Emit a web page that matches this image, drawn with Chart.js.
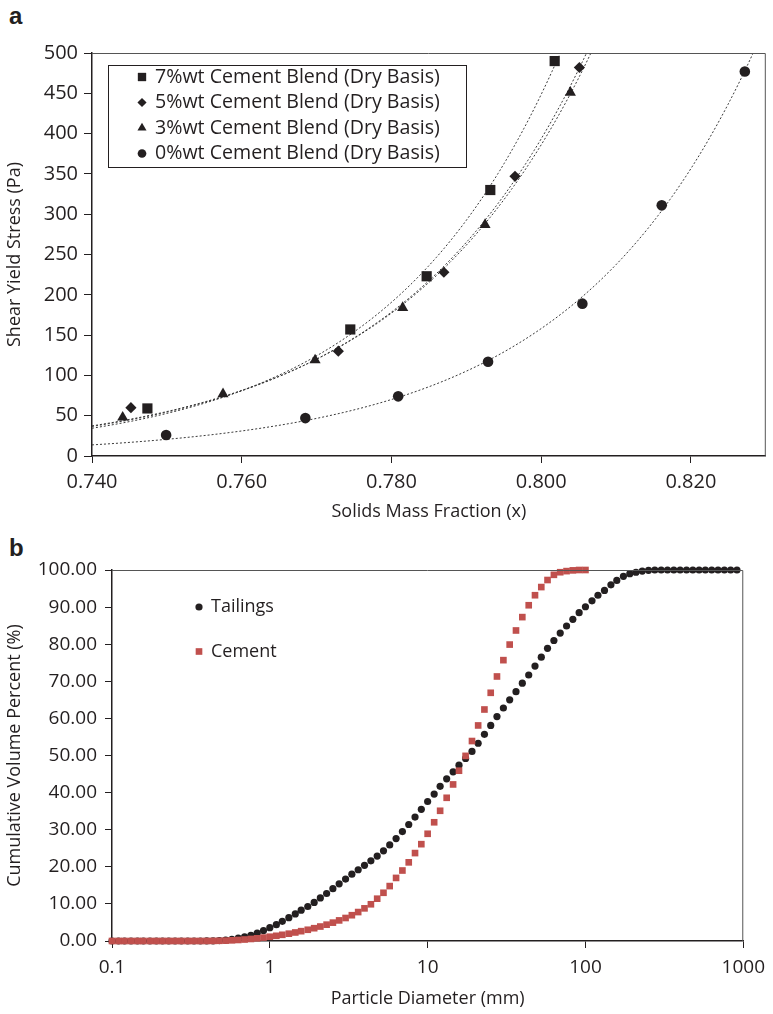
<!DOCTYPE html>
<html>
<head>
<meta charset="utf-8">
<script src="https://cdn.jsdelivr.net/npm/chart.js@4.4.1/dist/chart.umd.min.js"></script>
<style>
  body { margin: 0; background: #fff; width: 773px; height: 1014px; position: relative; overflow: hidden; }
  .panel { position: absolute; left: 0; width: 773px; }
  .tag { position: absolute; left: 9px; font: bold 24px "Liberation Sans", Arial, sans-serif; color: #231f20; }
</style>
</head>
<body>
<div class="tag" style="top:2px">a</div>
<div class="tag" style="top:534px">b</div>
<div class="panel" style="top:0; height:527px"><canvas id="chartA"></canvas></div>
<div class="panel" style="top:540px; height:474px"><canvas id="chartB"></canvas></div>
<script>
const INK = '#231f20';
const RED = '#c0504d';

// --- panel a: shear yield stress vs solids mass fraction ---
const frac7 = [0.7474, 0.7745, 0.7847, 0.7932, 0.8018];
const stress7 = [59, 157, 223, 330, 490];
const frac5 = [0.7452, 0.7729, 0.7870, 0.7965, 0.8051];
const stress5 = [60, 130, 228, 347, 482];
const frac3 = [0.7441, 0.7575, 0.7698, 0.7815, 0.7925, 0.8039];
const stress3 = [48, 77, 119, 184, 287, 451];
const frac0 = [0.7499, 0.7685, 0.7809, 0.7929, 0.8055, 0.8161, 0.8272];
const stress0 = [26, 47, 74, 117, 189, 311, 477];
const labelsA = ['7%wt Cement Blend (Dry Basis)', '5%wt Cement Blend (Dry Basis)',
                 '3%wt Cement Blend (Dry Basis)', '0%wt Cement Blend (Dry Basis)'];

// --- panel b: particle size distributions ---
const sizeClasses = [
  0.1, 0.11, 0.12, 0.132, 0.145, 0.158, 0.174, 0.191, 0.209, 0.229,
  0.251, 0.275, 0.302, 0.331, 0.363, 0.398, 0.437, 0.479, 0.525, 0.575,
  0.631, 0.692, 0.759, 0.832, 0.912, 1, 1.1, 1.2, 1.32, 1.45,
  1.58, 1.74, 1.91, 2.09, 2.29, 2.51, 2.75, 3.02, 3.31, 3.63,
  3.98, 4.37, 4.79, 5.25, 5.75, 6.31, 6.92, 7.59, 8.32, 9.12,
  10, 11, 12, 13.2, 14.5, 15.8, 17.4, 19.1, 20.9, 22.9,
  25.1, 27.5, 30.2, 33.1, 36.3, 39.8, 43.7, 47.9, 52.5, 57.5,
  63.1, 69.2, 75.9, 83.2, 91.2, 100, 110, 120, 132, 145,
  158, 174, 191, 209, 229, 251, 275, 302, 331, 363,
  398, 437, 479, 525, 575, 631, 692, 759, 832, 912
];
const tailings = [
  0, 0, 0, 0, 0, 0, 0, 0, 0, 0,
  0, 0, 0, 0, 0, 0.02, 0.05, 0.12, 0.25, 0.45,
  0.75, 1.1, 1.55, 2.1, 2.8, 3.6, 4.4, 5.3, 6.3, 7.3,
  8.3, 9.3, 10.4, 11.6, 12.8, 14.1, 15.4, 16.7, 18.0, 19.2,
  20.4, 21.6, 22.9, 24.3, 25.9, 27.6, 29.5, 31.4, 33.4, 35.5,
  37.6, 39.6, 41.7, 43.7, 45.6, 47.4, 49.2, 51.1, 53.3, 55.7,
  58.1, 60.5, 62.8, 65.0, 67.2, 69.5, 71.7, 74.1, 76.5, 78.9,
  81.0, 83.0, 84.9, 86.7, 88.5, 90.1, 91.7, 93.2, 94.5, 96.0,
  97.2, 98.3, 99.0, 99.4, 99.7, 99.9, 100, 100, 100, 100,
  100, 100, 100, 100, 100, 100, 100, 100, 100, 100
];
const cement = [
  0, 0, 0, 0, 0, 0, 0, 0, 0, 0,
  0, 0, 0, 0, 0, 0.01, 0.03, 0.06, 0.1, 0.18,
  0.28, 0.4, 0.55, 0.72, 0.92, 1.15, 1.4, 1.67, 1.97, 2.3,
  2.65, 3.03, 3.45, 3.9, 4.4, 4.95, 5.55, 6.2, 6.95, 7.8,
  8.8, 9.9, 11.4, 13.0, 14.8, 17.0, 19.0, 21.2, 23.7, 26.1,
  28.9, 32.0, 35.1, 38.6, 42.2, 45.9, 49.9, 53.9, 58.1, 62.4,
  66.9, 71.3, 75.7, 79.9, 83.7, 87.3, 90.5, 93.2, 95.4, 97.3,
  98.7, 99.4, 99.7, 99.9, 100, 100
];
const diameterTicks = [0.1, 1, 10, 100, 1000];

Chart.defaults.font.family = '"Open Sans", sans-serif';
Chart.defaults.font.size = 19;
Chart.defaults.color = INK;

function pairs(xs, ys) {
  return ys.map((y, i) => ({ x: xs[i], y: y }));
}

// y = A*exp(B*(x-m)) fitted by least squares on y (Gauss-Newton, started from the log fit)
function fitExp(pts) {
  const n = pts.length;
  const m = pts.reduce((s, p) => s + p.x, 0) / n;
  let su = 0, sl = 0, suu = 0, sul = 0;
  pts.forEach(p => {
    const u = p.x - m, l = Math.log(p.y);
    su += u; sl += l; suu += u * u; sul += u * l;
  });
  let B = (n * sul - su * sl) / (n * suu - su * su);
  let A = Math.exp((sl - B * su) / n);
  for (let it = 0; it < 60; it++) {
    let jaa = 0, jab = 0, jbb = 0, ra = 0, rb = 0;
    pts.forEach(p => {
      const u = p.x - m, e = Math.exp(B * u);
      const r = p.y - A * e, da = e, db = A * u * e;
      jaa += da * da; jab += da * db; jbb += db * db;
      ra += da * r; rb += db * r;
    });
    const det = jaa * jbb - jab * jab;
    if (!det) break;
    A += (jbb * ra - jab * rb) / det;
    B += (jaa * rb - jab * ra) / det;
  }
  return x => A * Math.exp(B * (x - m));
}

const expTrend = {
  id: 'expTrend',
  beforeDatasetsDraw(chart) {
    const { ctx, chartArea: a, scales: { x, y } } = chart;
    ctx.save();
    ctx.beginPath();
    ctx.rect(a.left, a.top, a.width, a.height);
    ctx.clip();
    ctx.strokeStyle = '#3a3a3a';
    ctx.lineWidth = 1;
    ctx.setLineDash([2, 2]);
    chart.data.datasets.forEach(ds => {
      const f = fitExp(ds.data);
      ctx.beginPath();
      for (let px = a.left; px <= a.right; px += 2) {
        const py = y.getPixelForValue(f(x.getValueForPixel(px)));
        if (px === a.left) ctx.moveTo(px, py); else ctx.lineTo(px, py);
      }
      ctx.stroke();
    });
    ctx.restore();
  }
};

// top and right edges of the plot frame
const frame = {
  id: 'frame',
  afterDraw(chart) {
    const { ctx, chartArea: a } = chart;
    ctx.save();
    ctx.strokeStyle = '#555';
    ctx.lineWidth = 1;
    ctx.beginPath();
    ctx.moveTo(a.left, a.top + 0.5);
    ctx.lineTo(a.right - 0.5, a.top + 0.5);
    ctx.lineTo(a.right - 0.5, a.bottom);
    ctx.stroke();
    ctx.restore();
  }
};

// legend drawn inside the plot area
const innerLegend = {
  id: 'innerLegend',
  afterDraw(chart, args, o) {
    const { ctx, chartArea: a } = chart;
    ctx.save();
    if (o.box) {
      ctx.strokeStyle = INK;
      ctx.lineWidth = 1;
      ctx.strokeRect(a.left + o.box[0] + 0.5, a.top + o.box[1] + 0.5, o.box[2], o.box[3]);
    }
    ctx.font = o.fontSize + 'px "Open Sans", sans-serif';
    ctx.textBaseline = 'middle';
    chart.data.datasets.forEach((ds, i) => {
      const cy = a.top + o.y + i * o.rowHeight;
      ctx.fillStyle = ds.backgroundColor;
      ctx.strokeStyle = ds.borderColor;
      Chart.helpers.drawPoint(ctx, {
        pointStyle: ds.pointStyle,
        radius: ds.pointRadius * o.markerScale,
        borderWidth: 0,
        rotation: 0
      }, a.left + o.markerX, cy);
      ctx.fillStyle = INK;
      ctx.fillText(ds.label, a.left + o.textX, cy);
    });
    ctx.restore();
  }
};

function markerSet(label, xs, ys, style, r) {
  return {
    label: label,
    data: pairs(xs, ys),
    pointStyle: style,
    pointRadius: r,
    backgroundColor: INK,
    borderColor: INK,
    borderWidth: 0,
    showLine: false,
    clip: false
  };
}

new Chart(document.getElementById('chartA'), {
  type: 'scatter',
  data: {
    datasets: [
      markerSet(labelsA[0], frac7, stress7, 'rect', 7.2),
      markerSet(labelsA[1], frac5, stress5, 'rectRot', 5.6),
      markerSet(labelsA[2], frac3, stress3, 'triangle', 6.4),
      markerSet(labelsA[3], frac0, stress0, 'circle', 5.3)
    ]
  },
  options: {
    responsive: true,
    maintainAspectRatio: false,
    animation: false,
    events: [],
    layout: { padding: { top: 53, right: 1, left: 0, bottom: 0 } },
    scales: {
      x: {
        type: 'linear',
        min: 0.74,
        max: 0.83,
        afterFit: s => { s.height = 71; },
        ticks: { stepSize: 0.02, includeBounds: false, padding: 7, maxRotation: 0,
                 font: { size: 20 }, callback: v => v.toFixed(3) },
        grid: { drawOnChartArea: false, tickLength: 7, tickColor: INK },
        border: { color: INK, width: 1.5 },
        title: { display: true, text: 'Solids Mass Fraction (x)', font: { size: 18 } }
      },
      y: {
        min: 0,
        max: 500,
        afterFit: s => { s.width = 92; },
        ticks: { stepSize: 50, padding: 6, font: { size: 20 } },
        grid: { drawOnChartArea: false, tickLength: 8, tickColor: INK },
        border: { color: INK, width: 1.5 },
        title: { display: true, text: 'Shear Yield Stress (Pa)', font: { size: 18 } }
      }
    },
    plugins: {
      legend: { display: false },
      tooltip: { enabled: false },
      innerLegend: { box: [16, 12, 358, 102], y: 24, rowHeight: 25.5, markerX: 50, textX: 63,
                     fontSize: 19.6, markerScale: 0.82 }
    }
  },
  plugins: [expTrend, frame, innerLegend]
});

new Chart(document.getElementById('chartB'), {
  type: 'scatter',
  data: {
    datasets: [
      { label: 'Tailings', data: pairs(sizeClasses, tailings), pointStyle: 'circle', pointRadius: 3.6,
        backgroundColor: INK, borderColor: INK, borderWidth: 0, order: 1, clip: false },
      { label: 'Cement', data: pairs(sizeClasses, cement), pointStyle: 'rect', pointRadius: 4.7,
        backgroundColor: RED, borderColor: RED, borderWidth: 0, order: 0, clip: false }
    ]
  },
  options: {
    responsive: true,
    maintainAspectRatio: false,
    animation: false,
    events: [],
    layout: { padding: { top: 30, right: 23, left: 0, bottom: 0 } },
    scales: {
      x: {
        type: 'logarithmic',
        min: 0.1,
        max: 1000,
        afterFit: s => { s.height = 73; },
        afterBuildTicks: s => { s.ticks = diameterTicks.map(v => ({ value: v })); },
        ticks: { padding: 8, maxRotation: 0, autoSkip: false, callback: v => String(v) },
        grid: { drawOnChartArea: false, tickLength: 7, tickColor: INK },
        border: { color: INK, width: 1.5 },
        title: { display: true, text: 'Particle Diameter (mm)', font: { size: 18 } }
      },
      y: {
        min: 0,
        max: 100,
        afterFit: s => { s.width = 112; },
        ticks: { stepSize: 10, padding: 8, callback: v => v.toFixed(2) },
        grid: { drawOnChartArea: false, tickLength: 7, tickColor: INK },
        border: { color: INK, width: 1.5 },
        title: { display: true, text: 'Cumulative Volume Percent (%)', font: { size: 18 } }
      }
    },
    plugins: {
      legend: { display: false },
      tooltip: { enabled: false },
      innerLegend: { y: 37, rowHeight: 44.5, markerX: 87, textX: 99, fontSize: 18, markerScale: 1 }
    }
  },
  plugins: [frame, innerLegend]
});
</script>
</body>
</html>
